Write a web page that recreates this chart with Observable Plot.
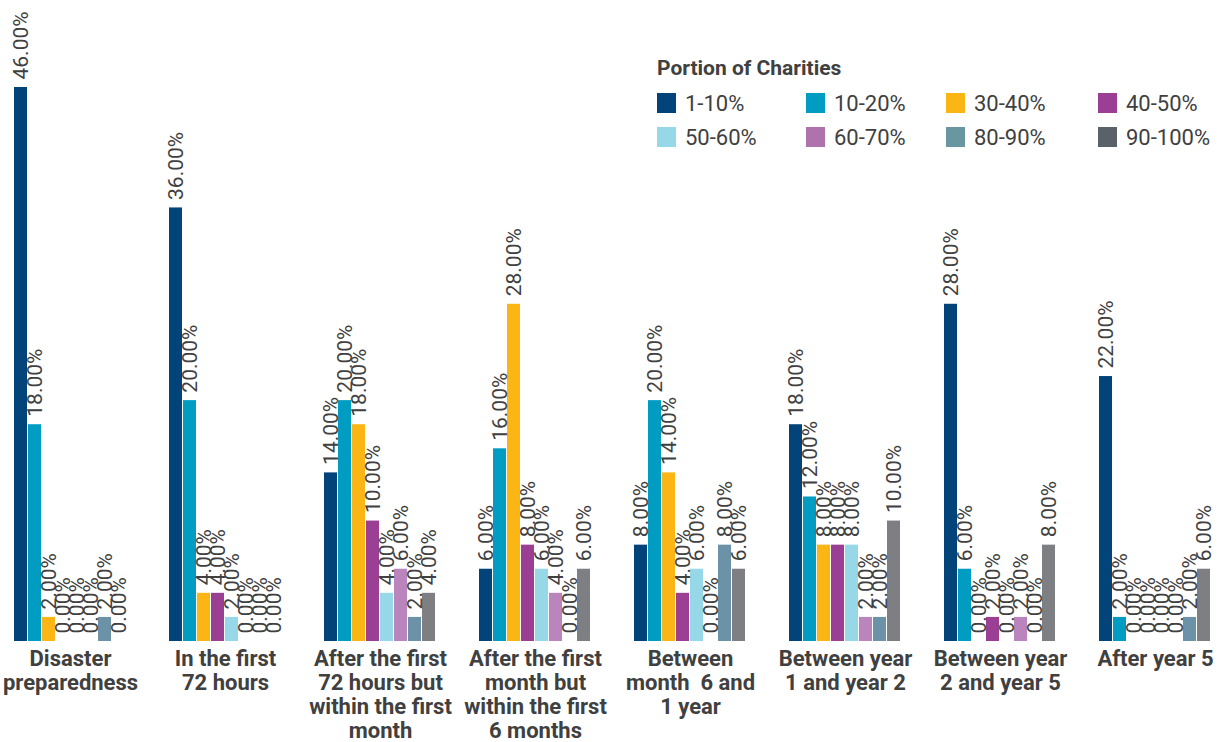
<!DOCTYPE html>
<html>
<head>
<meta charset="utf-8">
<script src="https://cdn.jsdelivr.net/npm/d3@7"></script>
<script src="https://cdn.jsdelivr.net/npm/@observablehq/plot@0.6"></script>
<style>
  html, body { margin: 0; padding: 0; background: #fff; }
  #wrap { position: relative; width: 1224px; height: 742px; font-family: Roboto, sans-serif; }
  #legend { position: absolute; left: 657px; top: 54px; color: #404040; }
  #legend .title { font-weight: bold; font-size: 21px; height: 28px; line-height: 28px; white-space: nowrap; }
  #legend .row { display: flex; height: 34px; align-items: center; }
  #legend .row.first { margin-top: 4px; }
  #legend .item { display: flex; align-items: center; }
  #legend .sw { width: 19px; height: 20px; margin-right: 9px; flex: none; }
  #legend .lab { font-size: 22px; white-space: nowrap; }
</style>
</head>
<body>
<div id="wrap">
  <div id="chart"></div>
  <div id="legend"></div>
</div>
<script>
// ---- data ----
const periods = [
  "Disaster\npreparedness",
  "In the first\n72 hours",
  "After the first\n72 hours but\nwithin the first\nmonth",
  "After the first\nmonth but\nwithin the first\n6 months",
  "Between\nmonth  6 and\n1 year",
  "Between year\n1 and year 2",
  "Between year\n2 and year 5",
  "After year 5"
];
const series = ["1-10%", "10-20%", "30-40%", "40-50%", "50-60%", "60-70%", "80-90%", "90-100%"];

const disasterPreparedness = [46, 18, 2, 0, 0, 0, 2, 0];
const first72Hours        = [36, 20, 4, 4, 2, 0, 0, 0];
const after72HoursMonth   = [14, 20, 18, 10, 4, 6, 2, 4];
const afterMonth6Months   = [6, 16, 28, 8, 6, 4, 0, 6];
const month6To1Year       = [8, 20, 14, 4, 6, 0, 8, 6];
const year1To2            = [18, 12, 8, 8, 8, 2, 2, 10];
const year2To5            = [28, 6, 0, 2, 0, 2, 0, 8];
const afterYear5          = [22, 2, 0, 0, 0, 0, 2, 6];

const barColors    = ["#02447a", "#009cc2", "#fbb615", "#9b3f94", "#96d7e8", "#b985bc", "#6b92a6", "#7e7f83"];
const legendColors = ["#02447a", "#009cc2", "#fbb615", "#9b3f94", "#96d7e8", "#ae72ac", "#6897a2", "#5a6169"];
const legendTitle = "Portion of Charities";

const valueRows = [disasterPreparedness, first72Hours, after72HoursMonth, afterMonth6Months,
                   month6To1Year, year1To2, year2To5, afterYear5];
const data = [];
periods.forEach((p, i) => series.forEach((s, j) => data.push({period: p, series: s, value: valueRows[i][j]})));

const chart = Plot.plot({
  width: 1224,
  height: 742,
  marginTop: 87,
  marginBottom: 101,
  marginLeft: 13,
  marginRight: 12,
  style: {fontFamily: "Roboto, sans-serif", background: "white", overflow: "visible"},
  fx: {domain: periods, paddingInner: 0.277, paddingOuter: 0, axis: null, label: null},
  x: {domain: series, paddingInner: 0.07, paddingOuter: 0, axis: null, label: null},
  y: {domain: [0, 46], axis: null, label: null},
  color: {domain: series, range: barColors},
  marks: [
    Plot.barY(data, {fx: "period", x: "series", y: "value", fill: "series"}),
    Plot.text(data, {
      fx: "period", x: "series", y: "value",
      text: d => d.value.toFixed(2) + "%",
      rotate: -90, textAnchor: "start", lineAnchor: "middle",
      dy: -8, fontSize: 21, fill: "#404040"
    }),
    Plot.text(periods, {
      fx: d => d, text: d => d,
      frameAnchor: "bottom", lineAnchor: "top", textAnchor: "middle",
      dy: 7, fontSize: 22, fontWeight: "bold", lineHeight: 1.1, fill: "#404040"
    })
  ]
});
document.getElementById("chart").appendChild(chart);

// legend
const lg = document.getElementById("legend");
const title = document.createElement("div");
title.className = "title";
title.textContent = legendTitle;
lg.appendChild(title);
const colWidths = [149, 140, 152, 130];
for (let r = 0; r < 2; r++) {
  const row = document.createElement("div");
  row.className = "row" + (r === 0 ? " first" : "");
  for (let c = 0; c < 4; c++) {
    const k = r * 4 + c;
    const it = document.createElement("div");
    it.className = "item";
    it.style.width = colWidths[c] + "px";
    const sw = document.createElement("div");
    sw.className = "sw";
    sw.style.background = legendColors[k];
    const lab = document.createElement("div");
    lab.className = "lab";
    lab.textContent = series[k];
    it.appendChild(sw);
    it.appendChild(lab);
    row.appendChild(it);
  }
  lg.appendChild(row);
}
</script>
</body>
</html>
